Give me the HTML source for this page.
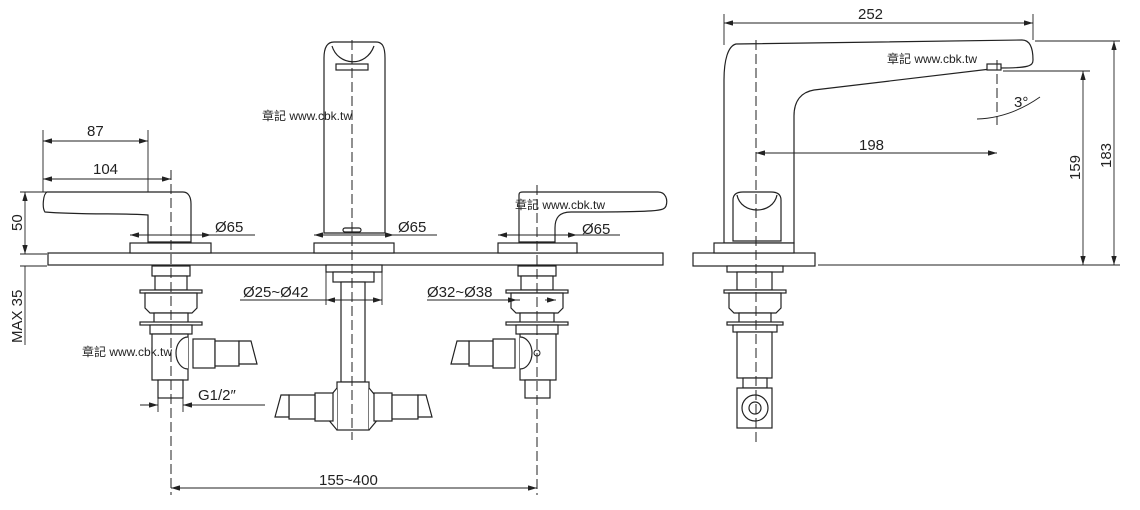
<!DOCTYPE html>
<html><head><meta charset="utf-8"><style>
html,body{margin:0;padding:0;background:#fff}
svg{display:block}
text{font-family:"Liberation Sans","Noto Sans CJK TC",sans-serif;fill:#222}
</style></head><body>
<svg width="1140" height="510" viewBox="0 0 1140 510" xmlns="http://www.w3.org/2000/svg">
<defs>
<marker id="a" viewBox="0 0 10 6" refX="10" refY="3" markerWidth="10" markerHeight="6" orient="auto-start-reverse"><path d="M0,0L10,3L0,6z" fill="#222"/></marker>
<g id="valve" fill="#fff" stroke="#222" stroke-width="1.2">
<rect x="-19" y="0" width="38" height="10"/>
<rect x="-16" y="10" width="32" height="14"/>
<rect x="-31" y="24" width="62" height="3"/>
<path d="M-26,27h52v15l-5,5h-42l-5,-5z"/>
<rect x="-17" y="47" width="34" height="12"/>
<rect x="-31" y="56" width="62" height="3"/>
<rect x="-21" y="59" width="42" height="9"/>
<rect x="-19" y="68" width="36" height="46"/>
<rect x="-13" y="114" width="25" height="18"/>
<path d="M17,71 a12,16 0 0 0 0,32"/>
<rect x="22" y="73" width="22" height="29"/>
<rect x="44" y="75" width="24" height="25"/>
<path d="M68,75h12l6,23h-18z"/>
</g>
</defs>
<g stroke="#222" stroke-width="1.2" fill="none">
<rect x="48" y="253" width="615" height="12" fill="#fff"/>
<rect x="693" y="253" width="122" height="13" fill="#fff"/>
<rect x="130" y="243" width="81" height="10" fill="#fff"/>
<path d="M148,242V215c-20,-2 -70,0 -103,-3c-3,-4 -2,-18 2,-20h136c6,0 8,6 8,12v38z" fill="#fff"/>
<rect x="314" y="243" width="80" height="10" fill="#fff"/>
<path d="M324,233V58c0,-12 4,-16 10,-16h42c6,0 9,4 9,16v175z" fill="#fff"/>
<path d="M332,46c6,20 34,22 42,0" />
<rect x="336" y="64" width="32" height="6"/>
<rect x="343" y="228" width="18" height="4" rx="2"/>
<rect x="498" y="243" width="79" height="10" fill="#fff"/>
<path d="M519,242V195c0,-3 2,-3 4,-3h135c8,0 10,8 8,14c-2,5 -6,6 -95,6c-12,0 -16,6 -16,16v14z" fill="#fff"/>
<rect x="326" y="265" width="56" height="7" fill="#fff"/>
<rect x="333" y="272" width="41" height="10" fill="#fff"/>
<rect x="341" y="282" width="24" height="100" fill="#fff"/>
<rect x="337" y="382" width="32" height="48" fill="#fff"/>
<g fill="#fff">
<path d="M337,388l-10,12v18l10,12"/><rect x="315" y="393" width="18" height="28"/><rect x="289" y="395" width="26" height="24"/><path d="M289,395h-8l-6,22h14z"/>
<path d="M369,388l10,12v18l-10,12"/><rect x="374" y="393" width="18" height="28"/><rect x="392" y="395" width="26" height="24"/><path d="M418,395h8l6,22h-14z"/>
</g>
</g>
<use href="#valve" transform="translate(171,266)"/>
<use href="#valve" transform="translate(537,266) scale(-1,1)"/>
<circle cx="537" cy="353" r="3" fill="none" stroke="#222"/>
<g stroke="#222" stroke-width="1.2" fill="#fff">
<path d="M724,243V80c0,-20 4,-34 12,-36l286,-4c8,0 11,8 11,20c0,6 -4,8 -34,8l-185,22c-12,2 -20,10 -20,26V243z"/>
<rect x="987" y="64" width="14" height="6"/>
<path d="M733,241V200c0,-6 4,-8 10,-8h28c6,0 10,2 10,8v41z"/>
<path d="M737,195c4,20 36,20 40,0" fill="none"/>
<rect x="714" y="243" width="80" height="10"/>
<rect x="727" y="266" width="56" height="6"/>
<rect x="737" y="272" width="35" height="18"/>
<rect x="724" y="290" width="62" height="3"/>
<path d="M729,293h52v15l-5,5h-42l-5,-5z"/>
<rect x="739" y="313" width="32" height="12"/>
<rect x="727" y="322" width="56" height="3"/>
<rect x="733" y="325" width="44" height="7"/>
<rect x="737" y="332" width="35" height="46"/>
<rect x="743" y="378" width="24" height="10"/>
<rect x="737" y="388" width="35" height="40"/>
<circle cx="755" cy="408" r="13"/>
<circle cx="755" cy="408" r="6"/>
</g>
<g stroke="#222" stroke-width="1" stroke-dasharray="10,4" fill="none">
<path d="M171,170V495M352,40V440M537,185V495M756,40V445M997,60V125"/>
</g>
<g stroke="#222" stroke-width="0.9" fill="none">
<path d="M43,130V192M148,130V192M43,168V190M724,14V45M1033,14V40M1035,41H1120M1003,71H1090M818,265H1120M20,192H60M20,254H47M20,266H47"/>
<path d="M43,141H148" marker-start="url(#a)" marker-end="url(#a)"/>
<path d="M43,179H171" marker-start="url(#a)" marker-end="url(#a)"/>
<path d="M25,192V254" marker-start="url(#a)" marker-end="url(#a)"/>
<path d="M25,266V345"/>
<path d="M130,235H211" marker-start="url(#a)" marker-end="url(#a)"/><path d="M211,235H255"/>
<path d="M314,235H394" marker-start="url(#a)" marker-end="url(#a)"/><path d="M394,235H437"/>
<path d="M498,235H577" marker-start="url(#a)" marker-end="url(#a)"/><path d="M577,235H620"/>
<path d="M326,268V305M382,268V305M240,300H326M326,300H382" /><path d="M340,300H326" marker-end="url(#a)"/><path d="M370,300H382" marker-end="url(#a)"/>
<path d="M427,300H520"/><path d="M510,300H517" marker-end="url(#a)"/><path d="M545,300H556" marker-end="url(#a)"/>
<path d="M158,390V412M183,390V412M140,405H158M183,405H265"/><path d="M145,405H158" marker-end="url(#a)"/><path d="M196,405H183" marker-end="url(#a)"/>
<path d="M171,488H537" marker-start="url(#a)" marker-end="url(#a)"/>
<path d="M724,23H1033" marker-start="url(#a)" marker-end="url(#a)"/>
<path d="M756,153H997" marker-start="url(#a)" marker-end="url(#a)"/>
<path d="M1114,41V265" marker-start="url(#a)" marker-end="url(#a)"/>
<path d="M1083,71V265" marker-start="url(#a)" marker-end="url(#a)"/>
<path d="M977,119Q1010,118 1040,97"/>
</g>
<g font-size="15">
<text x="87" y="136">87</text>
<text x="93" y="174">104</text>
<text x="215" y="232">Ø65</text>
<text x="398" y="232">Ø65</text>
<text x="582" y="234">Ø65</text>
<text x="243" y="297">Ø25~Ø42</text>
<text x="427" y="297">Ø32~Ø38</text>
<text x="198" y="400">G1/2″</text>
<text x="319" y="485">155~400</text>
<text x="858" y="19">252</text>
<text x="859" y="150">198</text>
<text x="1014" y="107">3°</text>
<text transform="translate(22,231) rotate(-90)">50</text>
<text transform="translate(22,343) rotate(-90)">MAX 35</text>
<text transform="translate(1080,180) rotate(-90)">159</text>
<text transform="translate(1111,168) rotate(-90)">183</text>
</g>
<g font-size="12">
<text x="262" y="120">章記 www.cbk.tw</text>
<text x="82" y="356">章記 www.cbk.tw</text>
<text x="515" y="209">章記 www.cbk.tw</text>
<text x="887" y="63">章記 www.cbk.tw</text>
</g>
</svg>
</body></html>
